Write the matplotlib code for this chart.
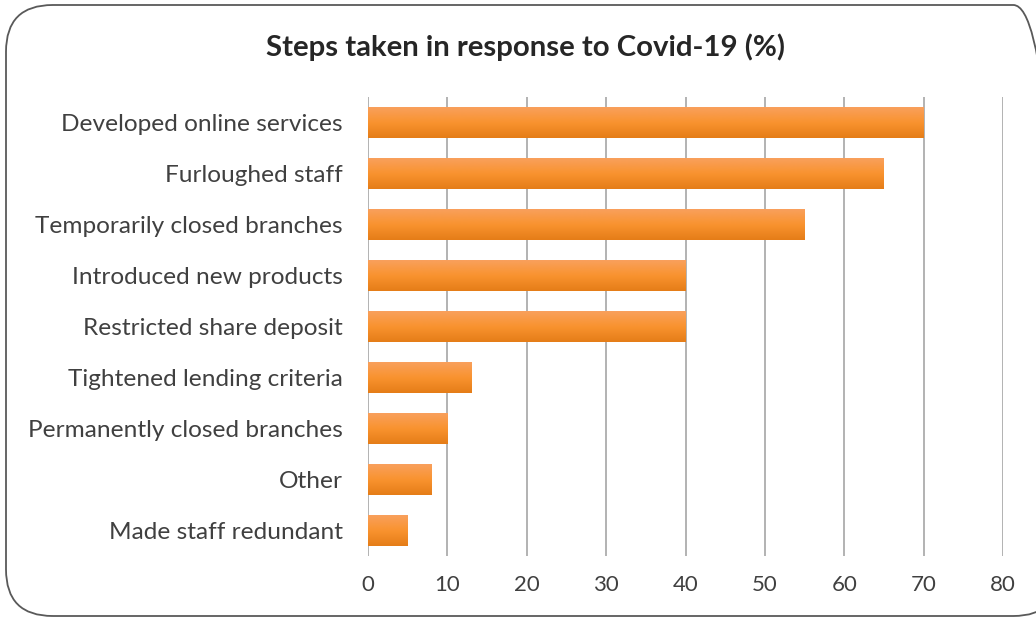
import numpy as np
import matplotlib
matplotlib.use("Agg")
import matplotlib.pyplot as plt
from matplotlib.patches import FancyBboxPatch
from matplotlib.colors import LinearSegmentedColormap

# data
categories = [
    "Developed online services",
    "Furloughed staff",
    "Temporarily closed branches",
    "Introduced new products",
    "Restricted share deposit",
    "Tightened lending criteria",
    "Permanently closed branches",
    "Other",
    "Made staff redundant",
]
values = [70, 65, 55, 40, 40, 13, 10, 8, 5]
x_ticks = [0, 10, 20, 30, 40, 50, 60, 70, 80]

plt.rcParams["font.family"] = ["Lato", "DejaVu Sans"]

W, H = 1036, 619
fig = plt.figure(figsize=(W / 100, H / 100), dpi=100)

# rounded border (right edge runs off the image)
border = FancyBboxPatch(
    (6 / W, 3 / H), (1060 - 6) / W, (614 - 3) / H,
    boxstyle="round,pad=0,rounding_size=0.045",
    transform=fig.transFigure, fill=False, edgecolor="#595959", linewidth=1.3,
    mutation_aspect=W / H,
)
fig.patches.append(border)

ax = fig.add_axes([368 / W, 1 - 556 / H, (1003 - 368) / W, (556 - 97) / H])

n = len(categories)
y = np.arange(n)
bar_h = 0.6

# gradient for bars: light at top, darker at bottom
cmap = LinearSegmentedColormap.from_list(
    "orange_grad", ["#F9A05C", "#F9932F", "#E57D18"]
)
grad = np.linspace(0, 1, 64).reshape(-1, 1)

for yi, v in zip(y, values):
    ax.imshow(grad, cmap=cmap, aspect="auto", interpolation="bilinear",
              extent=(0, v, yi + bar_h / 2, yi - bar_h / 2), zorder=3)

ax.set_xlim(0, 80)
ax.set_ylim(n - 0.5, -0.5)
ax.set_yticks(y)
ax.set_yticklabels(categories, fontsize=17.6, color="#404040")
ax.set_xticks(x_ticks)
ax.set_xticklabels([str(t) for t in x_ticks], fontsize=16, color="#404040")
ax.tick_params(axis="both", length=0)
ax.tick_params(axis="y", pad=18)
ax.tick_params(axis="x", pad=14)
ax.grid(axis="x", color="#A6A6A6", linewidth=1.2, zorder=0)
for s in ax.spines.values():
    s.set_visible(False)

fig.text(525 / W, 1 - 47 / H, "Steps taken in response to Covid-19 (%)",
         ha="center", va="center", fontsize=21.2, fontweight="bold",
         color="#262626")

fig.savefig("out.png", dpi=100)
